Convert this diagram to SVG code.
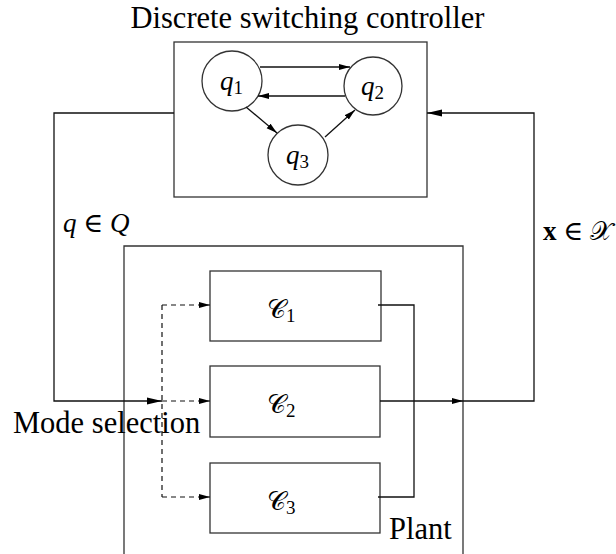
<svg xmlns="http://www.w3.org/2000/svg" width="616" height="554" viewBox="0 0 616 554">
<style>
.box{fill:none;stroke:#333;stroke-width:1.3}
.ln{fill:none;stroke:#111;stroke-width:1.3}
.dash{fill:none;stroke:#111;stroke-width:1.2;stroke-dasharray:5 4}
.lbl{font-family:"Liberation Serif","Times New Roman",serif;font-size:30.5px;fill:#000}
.math{font-family:"Liberation Serif","DejaVu Serif",serif;font-style:italic;font-size:27px;fill:#000}
.cal{font-family:"DejaVu Serif","Noto Sans","Liberation Serif",serif;font-size:26px;fill:#000}
.sub{font-family:"Liberation Serif",serif;font-style:normal;font-size:19px}
</style>
<defs>
<marker id="big" markerUnits="userSpaceOnUse" markerWidth="16" markerHeight="10" refX="15" refY="4" orient="auto">
<path d="M0,0.5 L15,4 L0,7.5 Z" fill="#000"/>
</marker>
<marker id="sm" markerUnits="userSpaceOnUse" markerWidth="12" markerHeight="8" refX="11" refY="3.5" orient="auto">
<path d="M0,0.5 L11,3.5 L0,6.5 Z" fill="#000"/>
</marker>
</defs>
<rect width="616" height="554" fill="#fff"/>
<text class="lbl" x="307.5" y="28" text-anchor="middle" font-size="31">Discrete switching controller</text>
<g id="controller">
<rect class="box" x="174" y="42" width="253" height="155"/>
</g>
<g id="q1"><circle class="box" cx="232" cy="81" r="30"/><text class="math" x="220" y="90">q<tspan class="sub" dy="4">1</tspan></text></g>
<g id="q2"><circle class="box" cx="373" cy="86" r="29"/><text class="math" x="361" y="95">q<tspan class="sub" dy="4">2</tspan></text></g>
<g id="q3"><circle class="box" cx="298" cy="155" r="30"/><text class="math" x="286" y="164">q<tspan class="sub" dy="4">3</tspan></text></g>
<g id="plant">
<path class="box" d="M124,554 V246 H463 V554"/>
<text class="lbl" x="389" y="539">Plant</text>
</g>
<g id="C1"><rect class="box" x="210" y="271" width="171" height="70"/><text class="cal" x="267" y="318">𝒞<tspan class="sub" dy="4">1</tspan></text></g>
<g id="C2"><rect class="box" x="210" y="366" width="170" height="71"/><text class="cal" x="267" y="413">𝒞<tspan class="sub" dy="4">2</tspan></text></g>
<g id="C3"><rect class="box" x="210" y="463" width="170" height="70"/><text class="cal" x="267" y="510">𝒞<tspan class="sub" dy="4">3</tspan></text></g>
<g id="connectors">
<line class="ln" x1="260" y1="67" x2="350" y2="67" marker-end="url(#sm)"/>
<line class="ln" x1="345" y1="96" x2="258" y2="96" marker-end="url(#sm)"/>
<line class="ln" x1="246" y1="107" x2="277" y2="133" marker-end="url(#sm)"/>
<line class="ln" x1="325" y1="137" x2="355" y2="110" marker-end="url(#sm)"/>
<path class="ln" d="M174,113 H54 V401 H162" marker-end="url(#big)"/>
<path class="dash" d="M162,305 V497"/>
<line class="dash" x1="162" y1="305" x2="210" y2="305" marker-end="url(#sm)"/>
<line class="dash" x1="162" y1="401" x2="210" y2="401" marker-end="url(#sm)"/>
<line class="dash" x1="162" y1="497" x2="210" y2="497" marker-end="url(#sm)"/>
<path class="ln" d="M378,305 H414 V497 H378"/>
<line class="ln" x1="380" y1="401" x2="463" y2="401" marker-end="url(#sm)"/>
<path class="ln" d="M463,401 H534 V113 H427" marker-end="url(#big)"/>
</g>
<text class="lbl" x="13" y="433">Mode selection</text>
<text class="math" x="63" y="232">q ∈ Q</text>
<text class="math" x="543" y="240"><tspan font-weight="bold" font-style="normal">x</tspan> ∈ <tspan class="cal" font-style="normal">𝒳</tspan></text>
</svg>
